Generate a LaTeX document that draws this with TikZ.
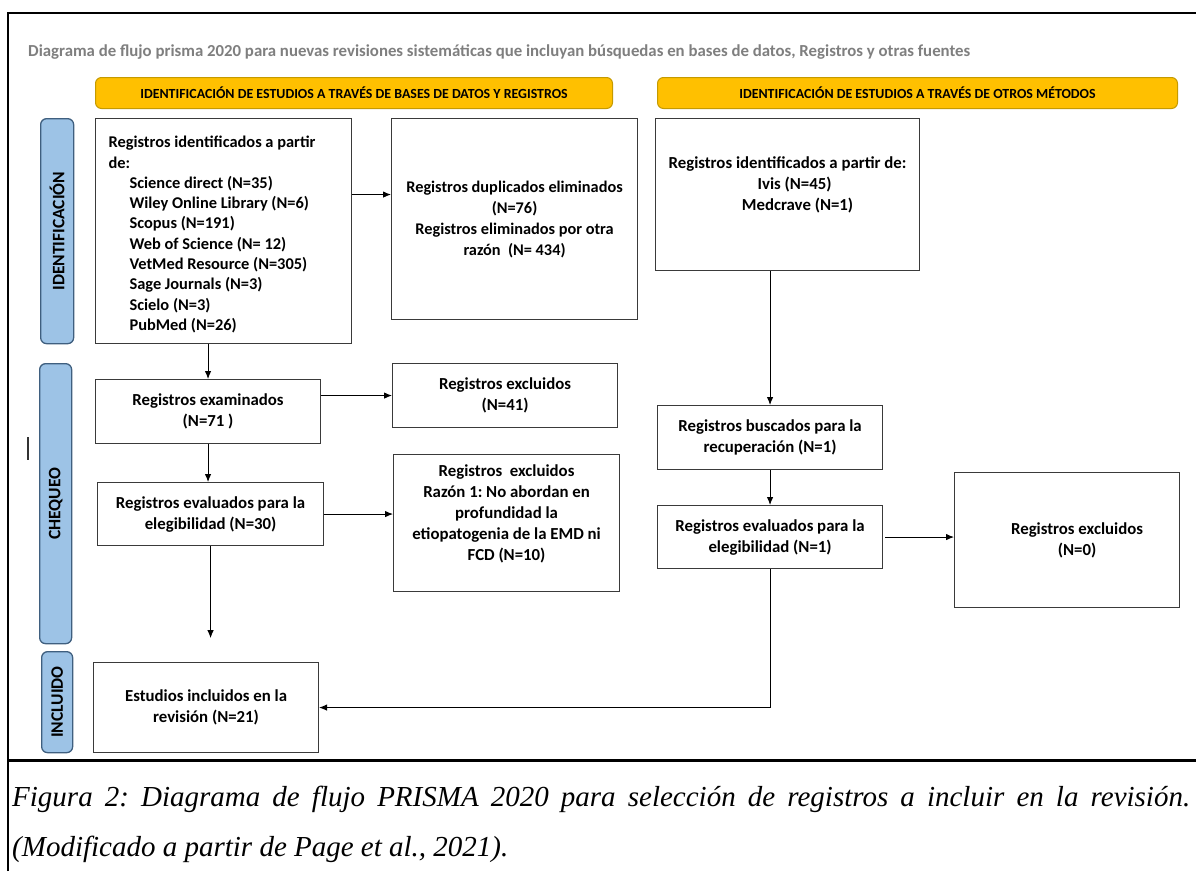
\documentclass[tikz,border=0pt]{standalone}
\usepackage{fontspec}
\setmainfont{Carlito}
\newfontfamily\capfont{Liberation Serif}
\usetikzlibrary{arrows.meta}
\frenchspacing
\definecolor{hdrfill}{HTML}{FFC000}
\definecolor{hdrline}{HTML}{C59A00}
\definecolor{sidefill}{HTML}{9DC3E6}
\definecolor{sideline}{HTML}{3F5F7F}
\definecolor{titlegray}{HTML}{7F7F7F}
\definecolor{boxline}{HTML}{3A3A3A}
\begin{document}
\begin{tikzpicture}[x=1pt,y=-1pt,
  box/.style={draw=boxline, line width=1.1pt, fill=white, align=center, inner sep=3pt,
    anchor=north west, font=\bfseries\fontsize{16.8}{21}\selectfont},
  side/.style={draw=sideline, fill=sidefill, line width=1.3pt, rounded corners=6pt,
    anchor=north west, inner sep=0pt},
  sidetext/.style={rotate=90, font=\bfseries\fontsize{17.5}{19}\selectfont},
  hdr/.style={draw=hdrline, fill=hdrfill, line width=1pt, rounded corners=6pt,
    anchor=north west, inner sep=0pt, font=\bfseries\fontsize{13.9}{15}\selectfont},
  arr/.style={-{Latex[length=8pt,width=6.5pt]}, line width=0.9pt, black}
]
\useasboundingbox (0,0) rectangle (1196,871);
\fill[white] (0,0) rectangle (1196,871);

% frame
\draw[line width=2pt] (8,871) -- (8,13) -- (1196,13);
\draw[line width=3pt] (8,760) -- (1196,760);
\draw[line width=1.3pt, black!80] (28,437) -- (28,460);

% title
\node[anchor=base west, inner sep=0pt, text=titlegray, font=\bfseries\fontsize{16.8}{18}\selectfont] (title) at (28,56)
  {Diagrama de flujo prisma 2020 para nuevas revisiones sistemáticas que incluyan búsquedas en bases de datos, Registros y otras fuentes};

% headers
\node[hdr, minimum width=517pt, minimum height=31pt] (h1) at (95,77)
  {IDENTIFICACIÓN DE ESTUDIOS A TRAVÉS DE BASES DE DATOS Y REGISTROS};
\node[hdr, minimum width=520pt, minimum height=31pt] (h2) at (657,77)
  {IDENTIFICACIÓN DE ESTUDIOS A TRAVÉS DE OTROS MÉTODOS};

% side labels
\node[side, minimum width=33pt, minimum height=225pt] (s1) at (40,118) {};
\node[sidetext] (s1t) at (s1.center) {IDENTIFICACIÓN};
\node[side, minimum width=32pt, minimum height=280pt] (s2) at (39,363) {};
\node[sidetext] (s2t) at (s2.center) {CHEQUEO};
\node[side, minimum width=31pt, minimum height=101pt] (s3) at (41,651) {};
\node[sidetext] (s3t) at (s3.center) {INCLUIDO};

% boxes
\node[box, align=flush left, text width=230pt, inner xsep=13pt, minimum height=225pt,
  font=\bfseries\fontsize{16.4}{20.3}\selectfont] (A) at (95,118)
  {\rule{0pt}{18.5pt}Registros identificados a partir\\
   de:\\
   \hspace*{21pt}Science direct (N=35)\\
   \hspace*{21pt}Wiley Online Library (N=6)\\
   \hspace*{21pt}Scopus (N=191)\\
   \hspace*{21pt}Web of Science (N= 12)\\
   \hspace*{21pt}VetMed Resource (N=305)\\
   \hspace*{21pt}Sage Journals (N=3)\\
   \hspace*{21pt}Scielo (N=3)\\
   \hspace*{21pt}PubMed (N=26)};
\node[box, minimum width=246pt, minimum height=201pt, font=\bfseries\fontsize{16.3}{21}\selectfont] (B) at (391,118)
  {Registros duplicados eliminados\\(N=76)\\Registros eliminados por otra\\razón~~(N=~434)};
\node[box, minimum width=264pt, minimum height=152pt] (C) at (655,118)
  {Registros identificados a partir de:\\\hspace*{14pt}Ivis (N=45)\\\hspace*{20pt}Medcrave (N=1)\\\mbox{}};
\node[box, minimum width=225pt, minimum height=64pt] (D) at (95,379)
  {Registros examinados\\(N=71 )};
\node[box, minimum width=225pt, minimum height=64pt] (E) at (392,363)
  {Registros excluidos\\(N=41)};
\node[box, minimum width=226pt, minimum height=63pt] (F) at (97,482)
  {Registros evaluados para la\\elegibilidad (N=30)};
\node[box, minimum width=226pt, minimum height=137pt] (G) at (393,454)
  {Registros~~excluidos\\Razón 1: No abordan en\\profundidad la\\etiopatogenia de la EMD ni\\FCD (N=10)\\\mbox{}};
\node[box, minimum width=225pt, minimum height=90pt] (H) at (93,662)
  {Estudios incluidos en la\\revisión (N=21)};
\node[box, minimum width=225pt, minimum height=64pt] (I) at (657,405)
  {Registros buscados para la\\recuperación (N=1)};
\node[box, minimum width=225pt, minimum height=63pt] (J) at (657,505)
  {Registros evaluados para la\\elegibilidad (N=1)};
\node[box, minimum width=225pt, minimum height=135pt] (K) at (954,472)
  {\hspace*{20pt}Registros excluidos\\\hspace*{20pt}(N=0)};

% arrows
\draw[arr] ([yshift=36.5pt]A.east) -- ([yshift=36.5pt]A.east -| B.west);
\draw[arr] (A.south -| D.north) -- (D.north);
\draw[arr] (D.east |- E.west) -- (E.west);
\draw[arr] (D.south) -- (D.south |- F.north);
\draw[arr] (F.east) -- (F.east -| G.west);
\coordinate (Fend) at ([yshift=-92pt]F.south);
\draw[arr] (F.south) -- (Fend);
\draw[arr] (C.south -| I.north) -- (I.north);
\draw[arr] (I.south) -- (J.north);
\draw[arr, shorten <=2pt] (J.east) -- (J.east -| K.west);
\draw[arr] (J.south) |- (H.east);

% caption
\node[anchor=base west, inner sep=0pt, font=\capfont\itshape\fontsize{29}{32}\selectfont] (cap1) at (12,806)
  {\makebox[1178pt][s]{Figura 2: Diagrama de flujo PRISMA 2020 para selección de registros a incluir en la revisión.}};
\node[anchor=base west, inner sep=0pt, font=\capfont\itshape\fontsize{29}{32}\selectfont] (cap2) at (12,856)
  {(Modificado a partir de Page et al., 2021).};
\end{tikzpicture}
\end{document}
